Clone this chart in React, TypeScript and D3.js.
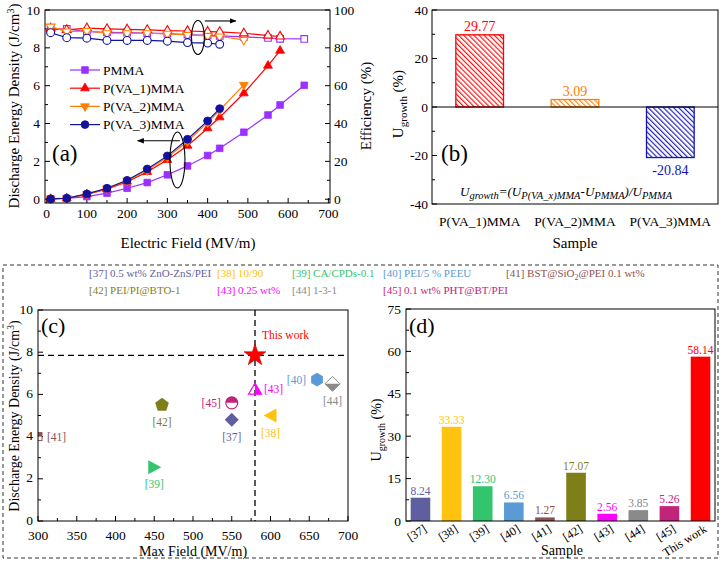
import React from "react";
import * as d3 from "d3";

const FONT = "'Liberation Serif', 'Times New Roman', Times, serif";

// ---------- (a) energy density & efficiency vs electric field ----------
const fieldPMMA = [10, 50, 100, 150, 200, 250, 300, 350, 400, 430, 490, 550, 580, 640];
const energyPMMA = [0.02, 0.04, 0.14, 0.32, 0.58, 0.88, 1.29, 1.76, 2.31, 2.69, 3.54, 4.45, 4.98, 6.02];
const effPMMA = [89.5, 90, 88.6, 88.2, 88, 87.8, 87.5, 87, 86.6, 86.3, 85.8, 85.2, 84.8, 84.7];

const fieldVA1 = [10, 50, 100, 150, 200, 250, 300, 350, 400, 430, 490, 550, 580];
const energyVA1 = [0.02, 0.05, 0.26, 0.53, 0.93, 1.44, 2.08, 2.83, 3.75, 4.33, 5.6, 7.06, 7.85];
const effVA1 = [90.3, 89.5, 90.4, 90, 89.8, 89.5, 89.1, 88.9, 88.6, 88.4, 87.7, 86.5, 86];

const fieldVA2 = [10, 50, 100, 150, 200, 250, 300, 350, 400, 430, 490];
const energyVA2 = [0.03, 0.06, 0.27, 0.57, 0.98, 1.52, 2.22, 3.05, 4.05, 4.7, 6.04];
const effVA2 = [91.2, 88.6, 88.9, 87.7, 87.7, 87.7, 87.4, 86.8, 86.3, 86, 84.2];

const fieldVA3 = [10, 50, 100, 150, 200, 250, 300, 350, 400, 430];
const energyVA3 = [0.02, 0.05, 0.28, 0.58, 1.0, 1.6, 2.29, 3.17, 4.14, 4.79];
const effVA3 = [88, 85.4, 85.1, 83.9, 83.9, 83.9, 83.5, 82.8, 82.5, 81.9];

const seriesNamesA = ["PMMA", "P(VA_1)MMA", "P(VA_2)MMA", "P(VA_3)MMA"];

// ---------- (b) growth of the copolymers over PMMA ----------
const samplesB = ["P(VA_1)MMA", "P(VA_2)MMA", "P(VA_3)MMA"];
const growthB = [29.77, 3.09, -20.84];

// ---------- (c)/(d) comparison with reported composites ----------
const refIds = ["[37]", "[38]", "[39]", "[40]", "[41]", "[42]", "[43]", "[44]", "[45]"];
const refNotes = [
  "0.5 wt% ZnO-ZnS/PEI",
  "10/90",
  "CA/CPDs-0.1",
  "PEI/5 % PEEU",
  "BST@SiO2@PEI 0.1 wt%",
  "PEI/PI@BTO-1",
  "0.25 wt%",
  "1-3-1",
  "0.1 wt% PHT@BT/PEI",
];
const refMaxField = [550, 600, 450, 660, 300, 460, 580, 680, 550];
const refEnergy = [4.8, 5.0, 2.55, 6.7, 4.0, 5.5, 6.25, 6.5, 5.6];
const thisWorkField = 580;
const thisWorkEnergy = 7.85;

const samplesD = [...refIds, "This work"];
const growthD = [8.24, 33.33, 12.3, 6.56, 1.27, 17.07, 2.56, 3.85, 5.26, 58.14];

// ---------- styling ----------
const colorsA = ["#9b30ff", "#ff0000", "#ff8000", "#12129c"];
const shapesA = ["square", "triangle", "triangleDown", "circle"];
const colorsB = ["#ff0000", "#ff8000", "#1414b4"];
const refColors = [
  "#5f5f9f",
  "#ffc20e",
  "#33c46e",
  "#5b9bd5",
  "#8c5252",
  "#7f7f1a",
  "#ff00ff",
  "#8a8a8a",
  "#c2247a",
];
const thisWorkColor = "#ff0000";

function symbolPath(shape: string): string {
  if (shape === "square") return d3.symbol(d3.symbolSquare, 44)() as string;
  if (shape === "circle") return d3.symbol(d3.symbolCircle, 48)() as string;
  return d3.symbol(d3.symbolTriangle, 34)() as string;
}

function Marker({ shape, x, y, color, open }: any) {
  const rot = shape === "triangleDown" ? 180 : 0;
  return (
    <path
      d={symbolPath(shape)}
      transform={`translate(${x},${y}) rotate(${rot})`}
      fill={open ? "#fff" : color}
      stroke={color}
      strokeWidth={open ? 1.1 : 0.8}
    />
  );
}

function polygon(n: number, r: number, start: number) {
  const pts: string[] = [];
  for (let k = 0; k < n; k++) {
    const a = start + (k * 2 * Math.PI) / n;
    pts.push(`${(r * Math.cos(a)).toFixed(2)},${(r * Math.sin(a)).toFixed(2)}`);
  }
  return "M" + pts.join("L") + "Z";
}

function RefMarker({ i, x, y }: { i: number; x: number; y: number }) {
  const c = refColors[i];
  const t = `translate(${x},${y})`;
  switch (i) {
    case 0: // diamond
      return <path d="M0,-7L7,0L0,7L-7,0Z" transform={t} fill={c} />;
    case 1: // left triangle
      return <path d="M-7,0L6,-7L6,7Z" transform={t} fill={c} />;
    case 2: // right triangle
      return <path d="M7,0L-6,-7L-6,7Z" transform={t} fill={c} />;
    case 3: // hexagon
      return <path d={polygon(6, 6.8, -Math.PI / 2)} transform={t} fill={c} />;
    case 4: // half-filled square
      return (
        <g transform={t}>
          <rect x={-4} y={-4} width={8} height={8} fill="#fff" stroke={c} strokeWidth={1} />
          <rect x={-4} y={-4} width={8} height={4} fill={c} />
        </g>
      );
    case 5: // pentagon
      return <path d={polygon(5, 7.2, -Math.PI / 2)} transform={t} fill={c} />;
    case 6: // half-filled triangle
      return (
        <g transform={t}>
          <path d="M0,5L0,-6L6.5,5Z" fill={c} />
          <path d="M0,-6L6.5,5L-6.5,5Z" fill="none" stroke={c} strokeWidth={1.2} />
        </g>
      );
    case 7: // half-filled diamond
      return (
        <g transform={t}>
          <path d="M-7.5,0L7.5,0L0,7.5Z" fill={c} />
          <path d="M0,-7.5L7.5,0L0,7.5L-7.5,0Z" fill="none" stroke={c} strokeWidth={1} />
        </g>
      );
    default: // half-filled circle
      return (
        <g transform={t}>
          <circle r={6} fill="#fff" stroke={c} strokeWidth={1.2} />
          <path d="M-6,0A6,6 0 0 1 6,0Z" fill={c} />
        </g>
      );
  }
}

const tickText = { fontFamily: FONT, fontSize: 13.5, fill: "#000" } as const;

function PanelA() {
  const x = d3.scaleLinear().domain([-4, 704]).range([45, 330]);
  const y = d3.scaleLinear().domain([-0.2, 10]).range([203, 10]);
  const y2 = d3.scaleLinear().domain([-2, 100]).range([203, 10]);
  const fields = [fieldPMMA, fieldVA1, fieldVA2, fieldVA3];
  const energies = [energyPMMA, energyVA1, energyVA2, energyVA3];
  const effs = [effPMMA, effVA1, effVA2, effVA3];
  const lineE = (f: number[], v: number[]) =>
    d3.line<number>().x((_, k) => x(f[k])).y((d) => y(d))(v) as string;
  const lineF = (f: number[], v: number[]) =>
    d3.line<number>().x((_, k) => x(f[k])).y((d) => y2(d))(v) as string;
  const left = 45, right = 330, top = 10, bottom = 203;

  return (
    <g>
      {/* ticks */}
      {d3.range(0, 701, 100).map((v) => (
        <g key={"xm" + v}>
          <line x1={x(v)} x2={x(v)} y1={bottom} y2={bottom - 5} stroke="#000" />
          <text x={x(v)} y={218} textAnchor="middle" {...tickText}>{v}</text>
        </g>
      ))}
      {d3.range(50, 700, 100).map((v) => (
        <line key={"xn" + v} x1={x(v)} x2={x(v)} y1={bottom} y2={bottom - 3} stroke="#000" />
      ))}
      {d3.range(0, 10.1, 2).map((v) => (
        <g key={"ym" + v}>
          <line x1={left} x2={left + 5} y1={y(v)} y2={y(v)} stroke="#000" />
          <text x={40} y={y(v) + 4.5} textAnchor="end" {...tickText}>{v}</text>
        </g>
      ))}
      {d3.range(1, 10, 2).map((v) => (
        <line key={"yn" + v} x1={left} x2={left + 3} y1={y(v)} y2={y(v)} stroke="#000" />
      ))}
      {d3.range(0, 101, 20).map((v) => (
        <g key={"rm" + v}>
          <line x1={right} x2={right - 5} y1={y2(v)} y2={y2(v)} stroke="#000" />
          <text x={334} y={y2(v) + 4.5} textAnchor="start" {...tickText}>{v}</text>
        </g>
      ))}
      {d3.range(10, 100, 20).map((v) => (
        <line key={"rn" + v} x1={right} x2={right - 3} y1={y2(v)} y2={y2(v)} stroke="#000" />
      ))}

      {/* efficiency curves (open symbols) */}
      {effs.map((v, s) => (
        <g key={"eff" + s}>
          <path d={lineF(fields[s], v)} fill="none" stroke={colorsA[s]} strokeWidth={1.2} />
          {v.map((d, k) => (
            <Marker key={k} shape={shapesA[s]} x={x(fields[s][k])} y={y2(d)} color={colorsA[s]} open />
          ))}
        </g>
      ))}
      {/* energy density curves (filled symbols) */}
      {energies.map((v, s) => (
        <g key={"en" + s}>
          <path d={lineE(fields[s], v)} fill="none" stroke={colorsA[s]} strokeWidth={1.2} />
          {v.map((d, k) => (
            <Marker key={k} shape={shapesA[s]} x={x(fields[s][k])} y={y(d)} color={colorsA[s]} />
          ))}
        </g>
      ))}

      <rect x={left} y={top} width={right - left} height={bottom - top} fill="none" stroke="#000" strokeWidth={1} />

      {/* legend */}
      {seriesNamesA.map((n, s) => {
        const ly = 70 + s * 18.2;
        return (
          <g key={"lg" + s}>
            <line x1={70} x2={100} y1={ly} y2={ly} stroke={colorsA[s]} strokeWidth={1.2} />
            <Marker shape={shapesA[s]} x={85} y={ly} color={colorsA[s]} />
            <text x={103} y={ly + 4.5} fontFamily={FONT} fontSize={13.5}>{n}</text>
          </g>
        );
      })}

      {/* axis annotations */}
      <ellipse cx={x(376)} cy={y2(85.5)} rx={6.5} ry={17} fill="none" stroke="#000" strokeWidth={1.1} />
      <line x1={x(393)} x2={x(470)} y1={y2(94.2)} y2={y2(94.2)} stroke="#000" strokeWidth={1.1} markerEnd="url(#arrowHead)" />
      <ellipse cx={x(325)} cy={y(2.07)} rx={7.5} ry={28} fill="none" stroke="#000" strokeWidth={1.1} />
      <line x1={x(331)} x2={x(226)} y1={y(3.09)} y2={y(3.09)} stroke="#000" strokeWidth={1.1} markerEnd="url(#arrowHead)" />

      <text x={52} y={161} fontFamily={FONT} fontSize={23}>(a)</text>

      <text x={188} y={248} textAnchor="middle" fontFamily={FONT} fontSize={15}>Electric Field (MV/m)</text>
      <text transform="translate(19,106) rotate(-90)" textAnchor="middle" fontFamily={FONT} fontSize={15}>
        Discharge Energy Density (J/cm<tspan dy={-5} fontSize={10}>3</tspan><tspan dy={5}>)</tspan>
      </text>
      <text transform="translate(371,106) rotate(-90)" textAnchor="middle" fontFamily={FONT} fontSize={15}>
        Efficiency (%)
      </text>
    </g>
  );
}

function PanelB() {
  const left = 432, right = 718, top = 10, bottom = 204;
  const x = d3.scaleBand<string>().domain(samplesB).range([left, right]).paddingInner(0.5).paddingOuter(0.25);
  const y = d3.scaleLinear().domain([-40, 40]).range([bottom, top]);
  return (
    <g>
      {d3.range(-40, 41, 20).map((v) => (
        <g key={"bm" + v}>
          <line x1={left} x2={left + 5} y1={y(v)} y2={y(v)} stroke="#000" />
          <text x={428} y={y(v) + 4.5} textAnchor="end" {...tickText}>{v}</text>
        </g>
      ))}
      {[-30, -10, 10, 30].map((v) => (
        <line key={"bn" + v} x1={left} x2={left + 3} y1={y(v)} y2={y(v)} stroke="#000" />
      ))}
      {samplesB.map((s, i) => {
        const v = growthB[i];
        const y0 = y(Math.max(0, v));
        const h = Math.abs(y(v) - y(0));
        return (
          <g key={s}>
            <rect x={x(s)} y={y0} width={x.bandwidth()} height={h} fill={`url(#hatch${i})`} stroke={colorsB[i]} strokeWidth={1.3} />
            <text
              x={(x(s) as number) + x.bandwidth() / 2}
              y={v >= 0 ? y(v) - 4 : y(v) + 17}
              textAnchor="middle"
              fontFamily={FONT}
              fontSize={14}
              fill={colorsB[i]}
            >
              {v.toFixed(2)}
            </text>
            <text x={(x(s) as number) + x.bandwidth() / 2} y={226} textAnchor="middle" fontFamily={FONT} fontSize={13.5}>
              {s}
            </text>
          </g>
        );
      })}
      <line x1={left} x2={right} y1={y(0)} y2={y(0)} stroke="#000" strokeWidth={1} />
      <rect x={left} y={top} width={right - left} height={bottom - top} fill="none" stroke="#000" />
      <text x={441} y={161} fontFamily={FONT} fontSize={23}>(b)</text>
      <text x={460} y={196} fontFamily={FONT} fontSize={13} fontStyle="italic">
        U<tspan dy={3} fontSize={10.5}>growth</tspan>
        <tspan dy={-3}>=(U</tspan>
        <tspan dy={3} fontSize={10.5}>P(VA_x)MMA</tspan>
        <tspan dy={-3}>-U</tspan>
        <tspan dy={3} fontSize={10.5}>PMMA</tspan>
        <tspan dy={-3}>)/U</tspan>
        <tspan dy={3} fontSize={10.5}>PMMA</tspan>
      </text>
      <text x={575} y={248} textAnchor="middle" fontFamily={FONT} fontSize={15}>Sample</text>
      <text transform="translate(403,104) rotate(-90)" textAnchor="middle" fontFamily={FONT} fontSize={15}>
        U<tspan dy={4} fontSize={11}>growth</tspan>
        <tspan dy={-4}> (%)</tspan>
      </text>
    </g>
  );
}

function LegendCD() {
  const cols = [89, 217, 292, 383, 506];
  const rows = [277, 294];
  return (
    <g fontFamily={FONT} fontSize={11}>
      {refIds.map((id, i) => {
        const r = i < 5 ? 0 : 1;
        const c = i < 5 ? i : i - 5;
        const note = refNotes[i];
        const parts = note.split("SiO2");
        return (
          <text key={id} x={cols[c]} y={rows[r]} fill={refColors[i]}>
            {id + " "}
            {parts.length === 2 ? (
              <>
                {parts[0] + "SiO"}
                <tspan dy={3} fontSize={8}>2</tspan>
                <tspan dy={-3}>{parts[1]}</tspan>
              </>
            ) : (
              note
            )}
          </text>
        );
      })}
    </g>
  );
}

function PanelC() {
  const left = 38, right = 348, top = 310, bottom = 521;
  const x = d3.scaleLinear().domain([300, 700]).range([left, right]);
  const y = d3.scaleLinear().domain([0, 10]).range([bottom, top]);
  const place = ["below", "below", "below", "left", "right", "below", "right", "below", "left"];
  return (
    <g>
      <defs>
        <clipPath id="clipC">
          <rect x={left} y={top} width={right - left} height={bottom - top} />
        </clipPath>
      </defs>
      {d3.range(300, 701, 50).map((v) => (
        <g key={"cx" + v}>
          <line x1={x(v)} x2={x(v)} y1={bottom} y2={bottom - 5} stroke="#000" />
          <text x={x(v)} y={539.5} textAnchor="middle" {...tickText}>{v}</text>
        </g>
      ))}
      {d3.range(325, 700, 50).map((v) => (
        <line key={"cxn" + v} x1={x(v)} x2={x(v)} y1={bottom} y2={bottom - 3} stroke="#000" />
      ))}
      {d3.range(0, 10.1, 2).map((v) => (
        <g key={"cy" + v}>
          <line x1={left} x2={left + 5} y1={y(v)} y2={y(v)} stroke="#000" />
          <text x={33} y={y(v) + 3.5} textAnchor="end" {...tickText}>{v}</text>
        </g>
      ))}
      {d3.range(1, 10, 2).map((v) => (
        <line key={"cyn" + v} x1={left} x2={left + 3} y1={y(v)} y2={y(v)} stroke="#000" />
      ))}

      <line x1={left} x2={right} y1={y(thisWorkEnergy)} y2={y(thisWorkEnergy)} stroke="#000" strokeWidth={1.3} strokeDasharray="6,4" />
      <line x1={x(thisWorkField)} x2={x(thisWorkField)} y1={top} y2={bottom} stroke="#000" strokeWidth={1.3} strokeDasharray="6,4" />

      <g clipPath="url(#clipC)">
        {refIds.map((id, i) => (
          <RefMarker key={id} i={i} x={x(refMaxField[i])} y={y(refEnergy[i])} />
        ))}
      </g>
      <path
        d={d3.symbol(d3.symbolStar, 150)() as string}
        transform={`translate(${x(thisWorkField)},${y(thisWorkEnergy)})`}
        fill={thisWorkColor}
        stroke="#c00000"
        strokeWidth={0.6}
      />
      {refIds.map((id, i) => {
        const px = x(refMaxField[i]);
        const py = y(refEnergy[i]);
        const p = place[i];
        const tx = p === "below" ? px : p === "left" ? px - 11 : px + 9;
        const ty = p === "below" ? py + 21 : py + 4;
        const anchor = p === "below" ? "middle" : p === "left" ? "end" : "start";
        return (
          <text key={"lb" + id} x={tx} y={ty} textAnchor={anchor} fontFamily={FONT} fontSize={11.5} fill={refColors[i]}>
            {id}
          </text>
        );
      })}
      <text x={x(thisWorkField) + 7} y={y(thisWorkEnergy) - 16} fontFamily={FONT} fontSize={11.5} fill={thisWorkColor}>
        This work
      </text>

      <rect x={left} y={top} width={right - left} height={bottom - top} fill="none" stroke="#000" />
      <text x={41} y={333} fontFamily={FONT} fontSize={22}>(c)</text>
      <text x={193} y={556} textAnchor="middle" fontFamily={FONT} fontSize={14}>Max Field (MV/m)</text>
      <text transform="translate(19,416) rotate(-90)" textAnchor="middle" fontFamily={FONT} fontSize={14}>
        Discharge Energy  Density (J/cm<tspan dy={-5} fontSize={9.5}>3</tspan><tspan dy={5}>)</tspan>
      </text>
    </g>
  );
}

function PanelD() {
  const left = 406, right = 715, top = 309, bottom = 521;
  const x = d3.scaleBand<string>().domain(samplesD).range([left, right]).paddingInner(0.37).paddingOuter(0.15);
  const y = d3.scaleLinear().domain([0, 75]).range([bottom, top]);
  const colors = [...refColors, thisWorkColor];
  return (
    <g>
      {d3.range(0, 76, 15).map((v) => (
        <g key={"dm" + v}>
          <line x1={left} x2={left + 5} y1={y(v)} y2={y(v)} stroke="#000" />
          <text x={401} y={y(v) + 4.5} textAnchor="end" {...tickText}>{v}</text>
        </g>
      ))}
      {d3.range(7.5, 75, 15).map((v) => (
        <line key={"dn" + v} x1={left} x2={left + 3} y1={y(v)} y2={y(v)} stroke="#000" />
      ))}
      {samplesD.map((s, i) => {
        const bx = x(s) as number;
        const cx = bx + x.bandwidth() / 2;
        return (
          <g key={s}>
            <rect x={bx} y={y(growthD[i])} width={x.bandwidth()} height={y(0) - y(growthD[i])} fill={colors[i]} />
            <text x={cx} y={y(growthD[i]) - 3} textAnchor="middle" fontFamily={FONT} fontSize={11.5} fill={colors[i]}>
              {growthD[i].toFixed(2)}
            </text>
            <text
              transform={`translate(${cx + 7},${531}) rotate(-32)`}
              textAnchor="end"
              fontFamily={FONT}
              fontSize={12}
            >
              {s}
            </text>
          </g>
        );
      })}
      <rect x={left} y={top} width={right - left} height={bottom - top} fill="none" stroke="#000" />
      <text x={409} y={333} fontFamily={FONT} fontSize={22}>(d)</text>
      <text x={562} y={555} textAnchor="middle" fontFamily={FONT} fontSize={14}>Sample</text>
      <text transform="translate(381,430) rotate(-90)" textAnchor="middle" fontFamily={FONT} fontSize={14}>
        U<tspan dy={4} fontSize={10}>growth</tspan>
        <tspan dy={-4}> (%)</tspan>
      </text>
    </g>
  );
}

export default function App() {
  return (
    <svg
      width={721}
      height={562}
      viewBox="0 0 721 562"
      style={{ position: "absolute", left: 0, top: 0, background: "#fff" }}
    >
      <defs>
        <marker id="arrowHead" viewBox="0 0 10 10" refX="9" refY="5" markerWidth="7" markerHeight="7" orient="auto" markerUnits="userSpaceOnUse">
          <path d="M0,1L10,5L0,9Z" fill="#000" />
        </marker>
        {colorsB.map((c, i) => (
          <pattern key={i} id={`hatch${i}`} patternUnits="userSpaceOnUse" width={3.6} height={3.6} patternTransform="rotate(-45)">
            <rect width={3.6} height={3.6} fill="#fff" />
            <line x1={0.6} x2={0.6} y1={0} y2={3.6} stroke={c} strokeWidth={1.1} />
          </pattern>
        ))}
      </defs>
      <rect width={721} height={562} fill="#fff" />
      <PanelA />
      <PanelB />
      <rect x={3} y={265} width={715} height={293} fill="none" stroke="#333" strokeDasharray="4,3" strokeWidth={1} />
      <LegendCD />
      <PanelC />
      <PanelD />
    </svg>
  );
}
